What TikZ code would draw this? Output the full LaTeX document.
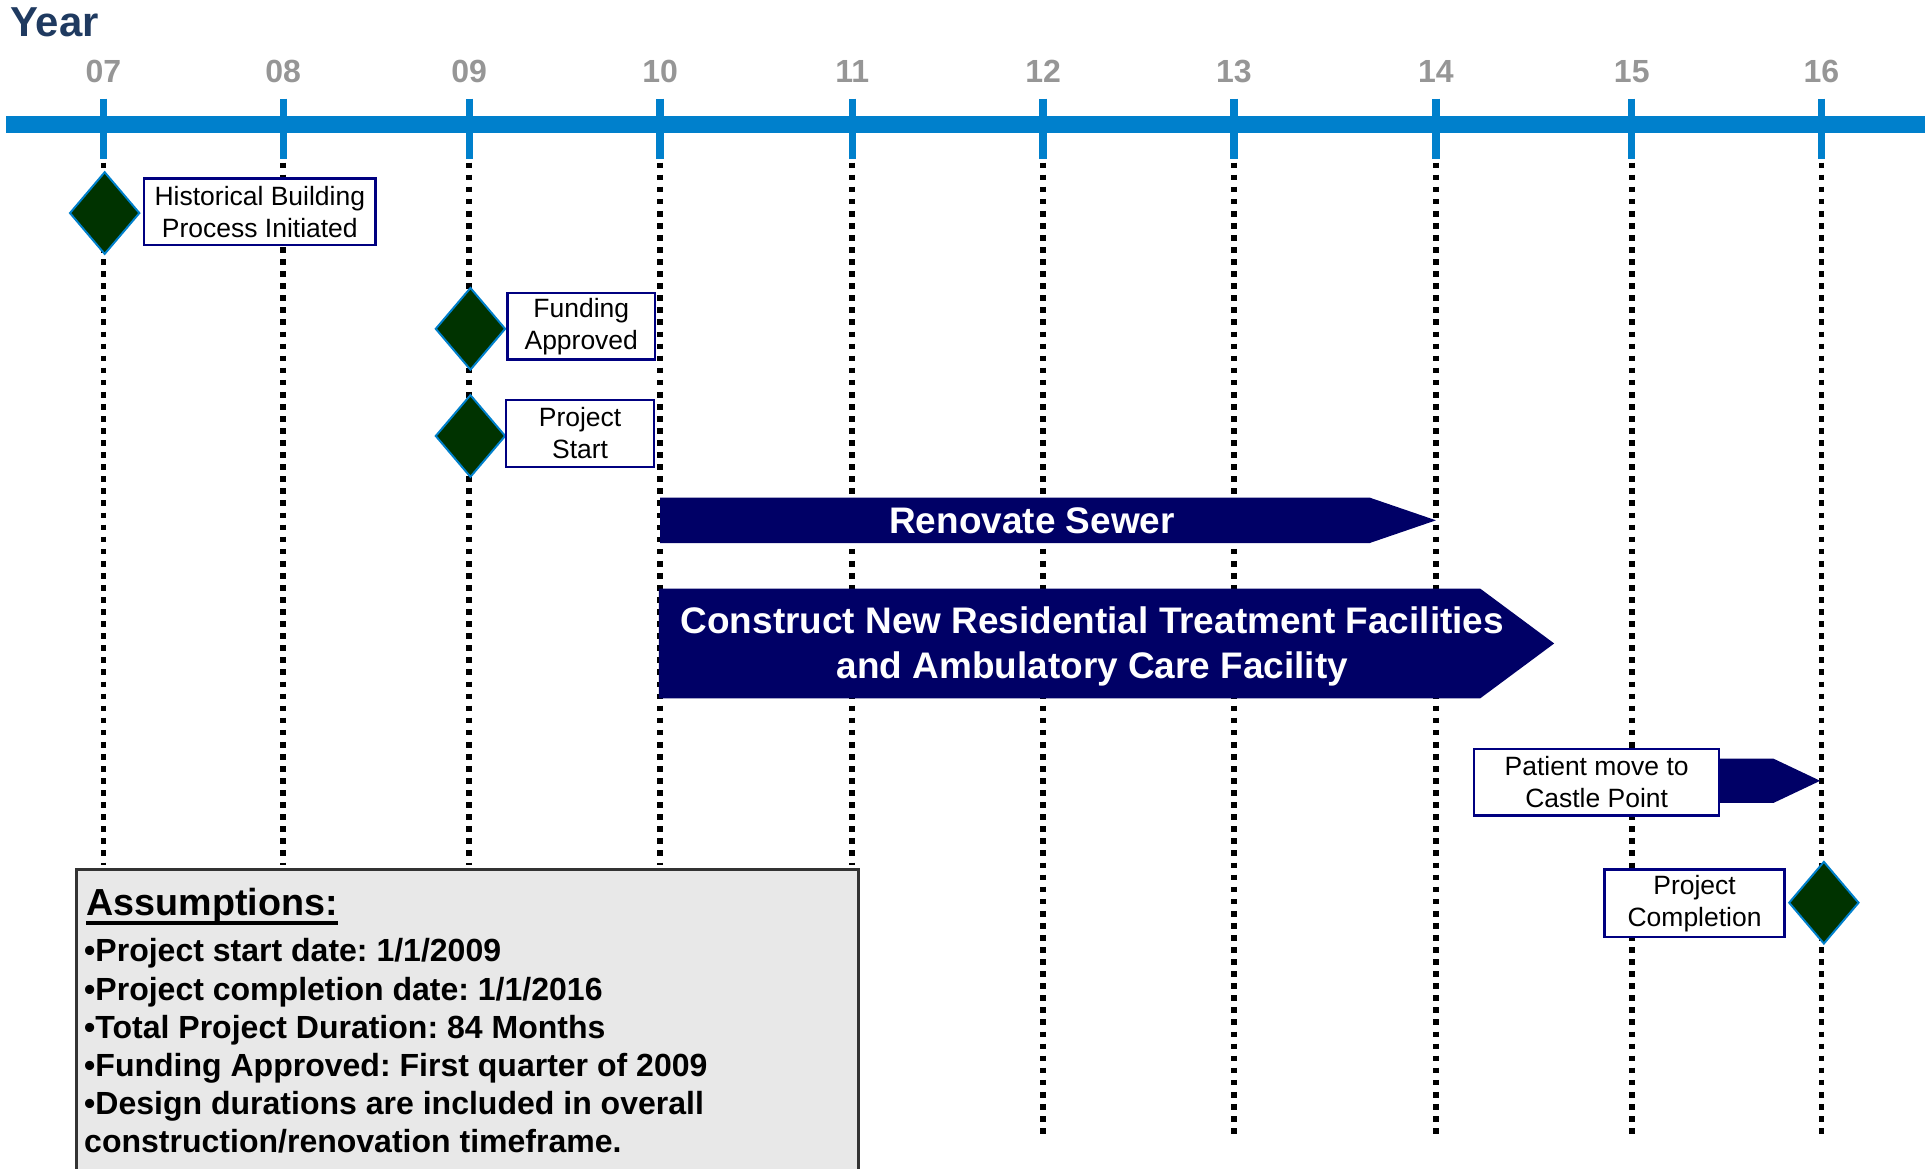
\documentclass[tikz,border=0pt]{standalone}
\usepackage{fontspec}
\setmainfont{Liberation Sans}
\usetikzlibrary{shapes.geometric}
\definecolor{barblue}{RGB}{0,128,204}
\definecolor{dgreen}{RGB}{0,51,0}
\definecolor{navyfill}{RGB}{0,0,102}
\definecolor{boxnavy}{RGB}{0,0,128}
\definecolor{yeartxt}{RGB}{31,58,96}
\definecolor{yrgray}{RGB}{150,150,150}
\definecolor{asmgray}{RGB}{232,232,232}
\frenchspacing
\begin{document}
\begin{tikzpicture}[x=0.5pt,y=-0.5pt,
  milestone/.style={diamond, fill=dgreen, draw=barblue, line width=0.8pt, minimum width=28.5pt, minimum height=33.5pt, inner sep=0pt},
  lbl/.style={draw=boxnavy, fill=white, line width=1pt, align=center, inner sep=0pt, font=\fontsize{10.75}{13}\selectfont},
  gridline/.style={line width=2.3pt, dash pattern=on 2.3pt off 2.6pt},
  yeartick/.style={barblue, line width=3pt},
  yr/.style={text=yrgray, anchor=base, inner sep=0pt, font=\bfseries\fontsize{13}{15}\selectfont},
  bartext/.style={text=white, font=\bfseries\fontsize{15}{18}\selectfont, align=center, inner sep=0pt},
  asm/.style={anchor=base west, inner sep=0pt, font=\bfseries\fontsize{13}{15.5}\selectfont},
  bararrow/.style={fill=navyfill}
]
\useasboundingbox (0,0) rectangle (1568,949);
% title
\node[anchor=base west, inner sep=0pt, text=yeartxt, font=\bfseries\fontsize{17}{20}\selectfont] (yeartitle) at (8,30) {Year};
% timeline bar
\coordinate (barL) at (5,101);
\coordinate (barR) at (1563,101);
\draw[barblue, line width=7pt] (barL) -- (barR);
% ticks, year labels, grid lines
\foreach \x/\n/\b in {84/07/702, 230/08/702, 381/09/702, 536/10/702, 692/11/702, 847/12/925, 1002/13/925, 1166/14/925, 1325/15/925, 1479/16/925}{
  \coordinate (tt\n) at (\x,80);
  \coordinate (tb\n) at (\x,129);
  \coordinate (top\n) at (\x,132);
  \coordinate (bot\n) at (\x,\b);
  \node[yr] (y\n) at (\x,67) {\n};
  \draw[yeartick] (tt\n) -- (tb\n);
  \draw[gridline] (top\n) -- (bot\n);
}
% bars
\fill[bararrow] (536,404) -- (1112,404) -- (1166,422.5) -- (1112,441) -- (536,441) -- cycle;
\node[bartext] (sewer) at (838,423) {Renovate Sewer};
\fill[bararrow] (535,478) -- (1202,478) -- (1262,522.5) -- (1202,567) -- (535,567) -- cycle;
\node[bartext] (construct) at (887,525) {Construct New Residential Treatment Facilities\\and Ambulatory Care Facility};
\fill[bararrow] (1390,616) -- (1440,616) -- (1478,634) -- (1440,652) -- (1390,652) -- cycle;
% milestones
\node[milestone] (m1) at (85,173) {};
\node[milestone] (m2) at (382,267) {};
\node[milestone] (m3) at (382,354) {};
\node[milestone] (m4) at (1481,733) {};
% labels
\node[lbl, minimum width=94pt, minimum height=27pt] (l1) at (211,172) {Historical Building\\Process Initiated};
\node[lbl, minimum width=60pt, minimum height=27pt] (l2) at (472,265) {Funding\\Approved};
\node[lbl, minimum width=60pt, minimum height=27pt] (l3) at (471,352) {Project\\Start};
\node[lbl, minimum width=99.5pt, minimum height=27pt] (l4) at (1296.5,635) {Patient move to\\Castle Point};
\node[lbl, minimum width=73pt, minimum height=27.5pt] (l5) at (1376,733.5) {Project\\Completion};
% assumptions
\draw[fill=asmgray, draw=black!80, line width=1pt] (62,706) rectangle (697,965);
\node[anchor=base west, inner sep=0pt, font=\bfseries\fontsize{15.3}{18}\selectfont] (asmhead) at (70,743) {Assumptions:};
\draw[line width=1.4pt] ([yshift=-3.2pt]asmhead.base west) -- ([yshift=-3.2pt]asmhead.base east);
\node[asm] (a1) at (68,781) {•Project start date: 1/1/2009};
\node[asm] (a2) at (68,812) {•Project completion date: 1/1/2016};
\node[asm] (a3) at (68,843) {•Total Project Duration: 84 Months};
\node[asm] (a4) at (68,874) {•Funding Approved: First quarter of 2009};
\node[asm] (a5) at (68,905) {•Design durations are included in overall};
\node[asm] (a6) at (68,936) {construction/renovation timeframe.};
\end{tikzpicture}
\end{document}
